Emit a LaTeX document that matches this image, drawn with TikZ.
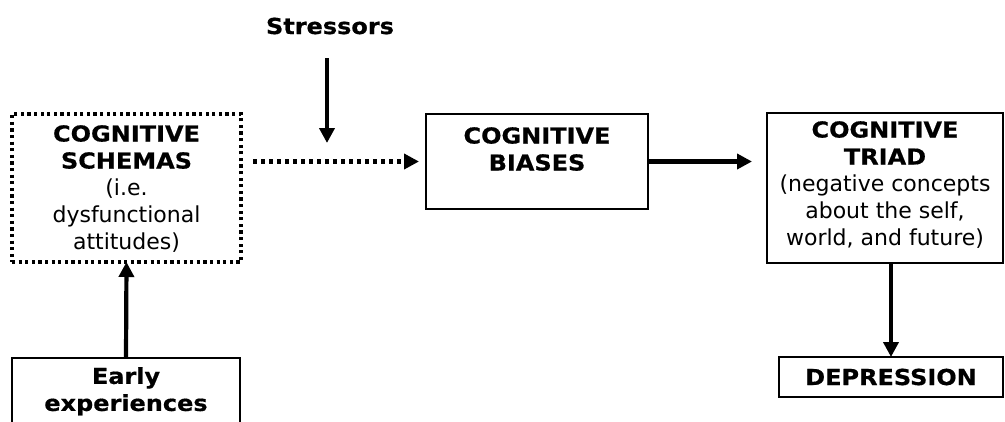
\documentclass[tikz,border=0pt]{standalone}
\usepackage{fontspec}
\setmainfont{DejaVu Sans}[BoldFeatures={FakeStretch=1.09,FakeBold=0.6}]
\usetikzlibrary{arrows.meta}
\begin{document}
\begin{tikzpicture}[x=1pt,y=-1pt,
  box/.style={draw, line width=2.8pt, inner sep=0pt, outer sep=0pt},
  dotbox/.style={draw, line width=3.2pt, dash pattern=on 3.2pt off 3.4pt, inner sep=0pt, outer sep=0pt},
  txt/.style={align=center, font=\fontsize{22}{27}\selectfont, inner sep=0pt},
  arr/.style={line width=4.2pt, -{Triangle[length=15pt,width=15pt]}},
  dotarr/.style={arr, dash pattern=on 4pt off 4pt}]
\useasboundingbox (0,0) rectangle (1005,421);
\clip (0,0) rectangle (1005,421);

% boxes
\node[dotbox, minimum width=229pt, minimum height=148pt] (schema) at (126.5,188) {};
\node[box, minimum width=228pt, minimum height=100pt] (early) at (126,408) {};
\node[box, minimum width=222pt, minimum height=95pt] (bias) at (537,161.5) {};
\node[box, minimum width=236pt, minimum height=150pt] (triad) at (885,188) {};
\node[box, minimum width=224pt, minimum height=40pt] (depr) at (891,377) {};

% texts
\node[txt, anchor=north] (schemat) at (126.5,125) {\textbf{COGNITIVE}\\\textbf{SCHEMAS}\\(i.e.\\dysfunctional\\attitudes)};
\node[txt, anchor=north] (biast) at (537,127) {\textbf{COGNITIVE}\\\textbf{BIASES}};
\node[txt, anchor=north] (triadt) at (885,121) {\textbf{COGNITIVE}\\\textbf{TRIAD}\\(negative concepts\\about the self,\\world, and future)};
\node[txt, anchor=north] (earlyt) at (126,367) {\textbf{Early}\\\textbf{experiences}};
\node[txt] (deprt) at (891,377) {\textbf{DEPRESSION}};
\node[txt] (stress) at (330,26) {\textbf{Stressors}};

% connectors
\coordinate (s1) at (327,58);
\coordinate (s2) at (327,143);
\draw[arr] (s1) -- (s2);
\draw[dotarr] ([xshift=12pt]schema.east |- bias.west) -- ([xshift=-7pt]bias.west);
\draw[arr] (bias.east) -- ([xshift=-15pt]triad.west |- bias.east);
\draw[arr] (triad.south -| depr.north) -- (depr.north);
\draw[arr] (early.north) -- (schema.south);
\end{tikzpicture}
\end{document}
